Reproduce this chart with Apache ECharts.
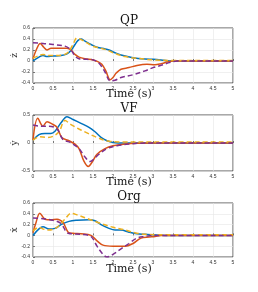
<!DOCTYPE html>
<html><head><meta charset="utf-8">
<script src="https://cdn.jsdelivr.net/npm/echarts@6/dist/echarts.min.js"></script>
<style>html,body{margin:0;padding:0;background:#fff}#c{width:258px;height:292px}</style>
</head><body><div id="c"></div>
<script>
const panelTitles = ['QP', 'VF', 'Org'];
const yNames = ['ż', 'ẏ', 'ẋ'];
const xTicks = [0, 0.5, 1, 1.5, 2, 2.5, 3, 3.5, 4, 4.5, 5];
const yRanges = [[-0.4, 0.6, 0.2], [-0.5, 0.5, 0.5], [-0.4, 0.6, 0.2]];
const seriesNames = ['blue', 'orange', 'yellow', 'purple'];

// QP panel
const qpBlue = [[0,0],[0.15,0.07],[0.25,0.1],[0.35,0.08],[0.5,0.09],[0.7,0.1],[0.85,0.13],[0.95,0.19],[1.05,0.3],[1.12,0.37],[1.2,0.4],[1.3,0.36],[1.45,0.3],[1.6,0.25],[1.8,0.22],[1.9,0.2],[2.05,0.15],[2.2,0.11],[2.5,0.06],[2.8,0.035],[3.0,0.03],[3.2,0.02],[3.5,0.0],[4,0],[5,0]];
const qpOrange = [[0,0.04],[0.08,0.2],[0.18,0.32],[0.27,0.25],[0.35,0.2],[0.45,0.23],[0.6,0.23],[0.85,0.23],[0.95,0.2],[1.05,0.12],[1.15,0.07],[1.3,0.04],[1.5,0.02],[1.62,-0.01],[1.72,-0.06],[1.82,-0.18],[1.93,-0.34],[2.0,-0.3],[2.08,-0.22],[2.2,-0.15],[2.4,-0.12],[2.6,-0.08],[2.85,-0.06],[3.05,-0.07],[3.2,-0.05],[3.35,-0.02],[3.5,0],[4,0],[5,0]];
const qpYellow = [[0,0.05],[0.12,0.09],[0.25,0.12],[0.4,0.1],[0.6,0.1],[0.75,0.11],[0.88,0.16],[1.0,0.3],[1.1,0.42],[1.2,0.39],[1.35,0.33],[1.5,0.27],[1.7,0.23],[1.85,0.2],[2.0,0.15],[2.3,0.08],[2.6,0.05],[3.0,0.02],[3.5,0.01],[4,0.01],[5,0.01]];
const qpPurple = [[0,0.33],[0.25,0.32],[0.5,0.3],[0.8,0.27],[0.95,0.2],[1.05,0.09],[1.15,0.04],[1.35,0.03],[1.5,0.02],[1.65,-0.04],[1.8,-0.2],[1.93,-0.36],[2.05,-0.35],[2.2,-0.3],[2.5,-0.25],[2.8,-0.18],[3.0,-0.12],[3.2,-0.08],[3.4,-0.03],[3.6,0],[4,0],[5,0]];

// VF panel
const vfBlue = [[0,0.05],[0.15,0.15],[0.3,0.17],[0.45,0.17],[0.55,0.21],[0.7,0.36],[0.85,0.47],[1.0,0.42],[1.2,0.35],[1.4,0.28],[1.55,0.2],[1.7,0.1],[1.85,0.04],[2.0,0.01],[2.3,0],[5,0]];
const vfOrange = [[0,0.05],[0.12,0.44],[0.25,0.3],[0.35,0.38],[0.5,0.33],[0.6,0.28],[0.72,0.1],[0.9,0.04],[1.05,-0.02],[1.15,-0.1],[1.27,-0.32],[1.38,-0.42],[1.48,-0.34],[1.6,-0.2],[1.8,-0.1],[2.0,-0.05],[2.3,-0.02],[2.6,-0.005],[3,0],[5,0]];
const vfYellow = [[0,0.05],[0.15,0.11],[0.35,0.1],[0.5,0.12],[0.65,0.2],[0.8,0.4],[0.95,0.33],[1.15,0.25],[1.35,0.18],[1.6,0.1],[1.9,0.03],[2.2,0.02],[3,0.02],[5,0.02]];
const vfPurple = [[0,0.32],[0.2,0.3],[0.4,0.3],[0.6,0.25],[0.75,0.06],[0.9,0.02],[1.0,-0.02],[1.15,-0.1],[1.3,-0.25],[1.42,-0.33],[1.5,-0.3],[1.65,-0.2],[1.85,-0.1],[2.1,-0.05],[2.4,-0.02],[2.8,0],[5,0]];

// Org panel
const orgBlue = [[0,0],[0.15,0.12],[0.25,0.16],[0.4,0.12],[0.55,0.13],[0.7,0.2],[0.9,0.26],[1.1,0.28],[1.4,0.29],[1.55,0.27],[1.7,0.2],[1.9,0.13],[2.05,0.1],[2.2,0.1],[2.4,0.06],[2.6,0.03],[2.8,0.02],[3.0,0.01],[3.3,0],[5,0]];
const orgOrange = [[0,0.05],[0.08,0.25],[0.17,0.41],[0.3,0.3],[0.45,0.29],[0.6,0.3],[0.75,0.24],[0.88,0.06],[1.0,0.04],[1.2,0.03],[1.45,0.0],[1.6,-0.1],[1.75,-0.18],[2.0,-0.2],[2.3,-0.2],[2.5,-0.15],[2.7,-0.05],[2.9,-0.03],[3.05,-0.02],[3.2,0],[5,0]];
const orgYellow = [[0,0.08],[0.15,0.15],[0.25,0.12],[0.4,0.1],[0.6,0.15],[0.8,0.3],[0.95,0.41],[1.1,0.38],[1.4,0.3],[1.7,0.22],[2.0,0.15],[2.3,0.1],[2.6,0.04],[2.8,0.02],[3.2,0.01],[5,0.01]];
const orgPurple = [[0,0.32],[0.25,0.31],[0.5,0.28],[0.7,0.22],[0.88,0.04],[1.2,0.02],[1.45,-0.02],[1.6,-0.2],[1.75,-0.35],[1.85,-0.4],[2.0,-0.35],[2.2,-0.25],[2.4,-0.15],[2.6,-0.05],[2.8,-0.02],[3.0,0],[5,0]];

const panelData = [
  [qpBlue, qpOrange, qpYellow, qpPurple],
  [vfBlue, vfOrange, vfYellow, vfPurple],
  [orgBlue, orgOrange, orgYellow, orgPurple]
];

const colors = ['#0072BD', '#D95319', '#EDB120', '#7E2F8E'];
const dashed = [false, false, true, true];
const gridTops = [28, 115, 203];
const gridH = [55, 56, 54];
const titleTops = [10, 98, 186];
const xlabTops = [89, 177, 264];

const chart = echarts.init(document.getElementById('c'), null, {renderer: 'canvas'});
const grids = [], xAxes = [], yAxes = [], series = [], titles = [], graphics = [];
for (let p = 0; p < 3; p++) {
  grids.push({left: 33, width: 200, top: gridTops[p], height: gridH[p], containLabel: false, outerBoundsMode: 'none', show: true, borderColor: '#262626', borderWidth: 0.8, backgroundColor: '#fff'});
  titles.push({text: panelTitles[p], left: 'center', top: titleTops[p], textStyle: {fontFamily: 'DejaVu Serif', fontSize: 12, fontWeight: 'normal', color: '#111'}});
  graphics.push({type: 'text', left: 'center', top: xlabTops[p], style: {text: 'Time (s)', font: '11px "DejaVu Serif"', fill: '#111'}});
  graphics.push({type: 'text', x: 15, y: gridTops[p] + gridH[p] / 2, rotation: Math.PI / 2,
    style: {text: yNames[p], font: '9px "DejaVu Serif"', fill: '#333', align: 'center', verticalAlign: 'middle'}});
  xAxes.push({type: 'value', gridIndex: p, min: 0, max: 5, interval: 0.5,
    axisLine: {show: false}, axisTick: {show: true, inside: true, length: 2, lineStyle: {color: '#262626', width: 0.6}},
    axisLabel: {fontSize: 5, color: '#333', margin: 3, formatter: v => String(v)},
    splitLine: {show: true, lineStyle: {color: '#e6e6e6', width: 0.6}}});
  const yr = yRanges[p];
  yAxes.push({type: 'value', gridIndex: p, min: yr[0], max: yr[1], interval: yr[2],
    axisLine: {show: false}, axisTick: {show: true, inside: true, length: 2, lineStyle: {color: '#262626', width: 0.6}},
    axisLabel: {fontSize: 5, color: '#333', margin: 3, formatter: v => String(Math.round(v * 10) / 10)},
    splitLine: {show: true, lineStyle: {color: '#e6e6e6', width: 0.6}}});
  for (let s = 0; s < 4; s++) {
    series.push({type: 'line', name: seriesNames[s], xAxisIndex: p, yAxisIndex: p,
      data: panelData[p][s], smooth: 0.35, showSymbol: false, symbol: 'none',
      lineStyle: {color: colors[s], width: 1.5, type: dashed[s] ? [5, 3] : 'solid'}, z: 2 + (s < 2 ? 0 : 1)});
  }
}
chart.setOption({animation: false, title: titles, grid: grids, xAxis: xAxes, yAxis: yAxes, series: series, graphic: graphics});
</script></body></html>
